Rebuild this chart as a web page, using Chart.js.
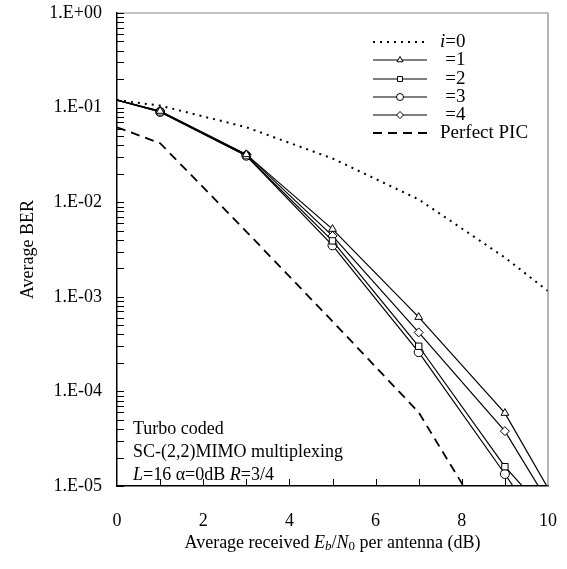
<!DOCTYPE html>
<html>
<head>
<meta charset="utf-8">
<script src="https://cdn.jsdelivr.net/npm/chart.js@4.4.0/dist/chart.umd.min.js"></script>
<style>
  html, body { margin: 0; padding: 0; background: #fff; }
</style>
</head>
<body>
<canvas id="myChart" width="567" height="569"></canvas>
<script>
// Datos (Eb/N0 en dB, BER promedio)
const snr = [0, 1, 3, 5, 7, 9, 10];
const berI0 = [0.12, 0.105, 0.062, 0.029, 0.0107, 0.0026, 0.00115];
const berI1 = [0.12, 0.092, 0.032, 0.0052, 0.00061, 0.000059, 0.0000095];
const berI2 = [0.12, 0.09, 0.031, 0.0039, 0.00030, 0.000016, 0.000005];
const berI3 = [0.12, 0.09, 0.031, 0.0035, 0.00026, 0.0000134, 0.0000028];
const berI4 = [0.12, 0.092, 0.032, 0.0044, 0.00042, 0.000038, 0.0000068];
const snrPic = [0, 1, 3, 5, 7, 9];
const berPic = [0.062, 0.042, 0.0049, 0.00055, 0.00006, 0.0000019];
const yTicks = [1, 0.1, 0.01, 0.001, 0.0001, 0.00001];
const xTicks = [0, 2, 4, 6, 8, 10];

const serif = "'Liberation Serif', 'Times New Roman', serif";
const font = (size, italic) => (italic ? 'italic ' : '') + size + 'px ' + serif;

const toXY = (xs, ys) => ys.map((v, i) => ({ x: xs[i], y: v }));
// marcadores solo en los puntos interiores
const markerSizes = snr.map((v, i) => (i === 0 || i === snr.length - 1) ? 0 : 4.5);

function solid(label, ys, style) {
    return {
        label: label,
        data: toXY(snr, ys),
        borderColor: '#000',
        borderWidth: 1.2,
        pointStyle: style,
        pointRadius: markerSizes,
        pointBackgroundColor: '#fff',
        pointBorderColor: '#000',
        pointBorderWidth: 1,
        tension: 0
    };
}

function fmtExp(v) {
    let e = Math.round(Math.log10(v));
    let s = String(Math.abs(e)).padStart(2, '0');
    return '1.E' + (e >= 0 ? '+' : '-') + s;
}

// texto con partes en cursiva y subindices
function drawRuns(c, runs, x, y, align) {
    let w = 0;
    runs.forEach(r => { c.font = r.f; w += c.measureText(r.t).width; });
    let cx = align === 'center' ? x - w / 2 : x;
    runs.forEach(r => {
        c.font = r.f;
        c.fillText(r.t, cx, y + (r.dy || 0));
        cx += c.measureText(r.t).width;
    });
}

const frame = {
    id: 'frame',
    afterDraw(chart) {
        const c = chart.ctx;
        const a = chart.chartArea;
        const xs = chart.scales.x, ys = chart.scales.y;
        c.save();
        // borde superior y derecho gris
        c.strokeStyle = '#888';
        c.lineWidth = 1.2;
        c.beginPath();
        c.moveTo(a.left, a.top);
        c.lineTo(a.right, a.top);
        c.lineTo(a.right, a.bottom);
        c.stroke();
        // marcas hacia dentro
        c.strokeStyle = '#000';
        c.lineWidth = 1;
        c.beginPath();
        for (let d = -5; d < 0; d++) {
            for (let m = 1; m < 10; m++) {
                let py = Math.round(ys.getPixelForValue(m * Math.pow(10, d))) + 0.5;
                c.moveTo(a.left, py);
                c.lineTo(a.left + 7, py);
            }
        }
        let pTop = Math.round(ys.getPixelForValue(1)) + 0.5;
        c.moveTo(a.left, pTop);
        c.lineTo(a.left + 7, pTop);
        for (let v = 1; v < 10; v++) {
            let px = Math.round(xs.getPixelForValue(v)) + 0.5;
            c.moveTo(px, a.bottom);
            c.lineTo(px, a.bottom - 7);
        }
        c.stroke();

        c.fillStyle = '#000';
        c.textBaseline = 'middle';
        // titulo eje x
        drawRuns(c, [
            { t: 'Average received ', f: font(18) },
            { t: 'E', f: font(18, true) },
            { t: 'b', f: font(13, true), dy: 4 },
            { t: '/', f: font(18) },
            { t: 'N', f: font(18, true) },
            { t: '0', f: font(13), dy: 4 },
            { t: ' per antenna (dB)', f: font(18) }
        ], (a.left + a.right) / 2, 543, 'center');
        // titulo eje y
        c.save();
        c.translate(28, (a.top + a.bottom) / 2);
        c.rotate(-Math.PI / 2);
        c.textAlign = 'center';
        c.font = font(18);
        c.fillText('Average BER', 0, 0);
        c.restore();
        // notas
        c.textAlign = 'left';
        drawRuns(c, [{ t: 'Turbo coded', f: font(18) }], 133, 429);
        drawRuns(c, [{ t: 'SC-(2,2)MIMO multiplexing', f: font(18) }], 133, 452);
        drawRuns(c, [
            { t: 'L', f: font(18, true) },
            { t: '=16 \u03b1=0dB ', f: font(18) },
            { t: 'R', f: font(18, true) },
            { t: '=3/4', f: font(18) }
        ], 133, 475);

        // leyenda
        const rows = [42, 60, 79, 97, 115, 133];
        c.font = font(19, true);
        const iw = c.measureText('i').width;
        chart.data.datasets.forEach((ds, k) => {
            let y = rows[k];
            c.save();
            c.strokeStyle = '#000';
            c.lineWidth = ds.borderWidth;
            c.setLineDash(ds.borderDash || []);
            c.beginPath();
            c.moveTo(373, y);
            c.lineTo(427, y);
            c.stroke();
            c.restore();
            if (ds.pointStyle) {
                c.fillStyle = '#fff';
                c.strokeStyle = '#000';
                c.lineWidth = 1;
                Chart.helpers.drawPoint(c, { pointStyle: ds.pointStyle, radius: 3.5, rotation: 0, borderWidth: 1 }, 400, y);
                c.fillStyle = '#000';
            }
            if (k === 0) {
                drawRuns(c, [{ t: 'i', f: font(19, true) }, { t: '=0', f: font(19) }], 440, y);
            } else if (ds.pointStyle) {
                drawRuns(c, [{ t: ds.label, f: font(19) }], 440 + iw, y);
            } else {
                drawRuns(c, [{ t: ds.label, f: font(19) }], 440, y);
            }
        });
        c.restore();
    }
};

let ctx = document.getElementById('myChart');

let berChart = new Chart(ctx, {
    type: 'line',
    data: {
        datasets: [
            {
                label: 'i=0',
                data: toXY(snr, berI0),
                borderColor: '#000',
                borderWidth: 2,
                borderDash: [2, 5],
                pointRadius: 0
            },
            solid('=1', berI1, 'triangle'),
            solid('=2', berI2, 'rect'),
            solid('=3', berI3, 'circle'),
            solid('=4', berI4, 'rectRot'),
            {
                label: 'Perfect PIC',
                data: toXY(snrPic, berPic),
                borderColor: '#000',
                borderWidth: 1.8,
                borderDash: [9, 6],
                pointRadius: 0
            }
        ]
    },
    options: {
        responsive: false,
        animation: false,
        layout: { padding: { left: 0, top: 13, right: 19, bottom: 0 } },
        plugins: {
            legend: { display: false },
            tooltip: { enabled: false }
        },
        scales: {
            x: {
                type: 'linear',
                min: 0,
                max: 10,
                grid: { display: false },
                border: { color: '#000', width: 1.5 },
                ticks: {
                    stepSize: 1,
                    autoSkip: false,
                    maxRotation: 0,
                    padding: 16,
                    color: '#000',
                    font: { family: serif, size: 18 },
                    callback: v => xTicks.includes(v) ? String(v) : ''
                },
                afterFit: s => { s.height = 83; s.paddingLeft = 0; s.paddingRight = 0; }
            },
            y: {
                type: 'logarithmic',
                min: 0.00001,
                max: 1,
                grid: { display: false },
                border: { color: '#000', width: 1.5 },
                ticks: {
                    autoSkip: false,
                    padding: 7,
                    color: '#000',
                    font: { family: serif, size: 18 },
                    callback: v => yTicks.some(t => Math.abs(t - v) / t < 1e-6) ? fmtExp(v) : ''
                },
                afterFit: s => { s.width = 117; s.paddingTop = 0; s.paddingBottom = 0; }
            }
        }
    },
    plugins: [frame]
});
</script>
</body>
</html>
